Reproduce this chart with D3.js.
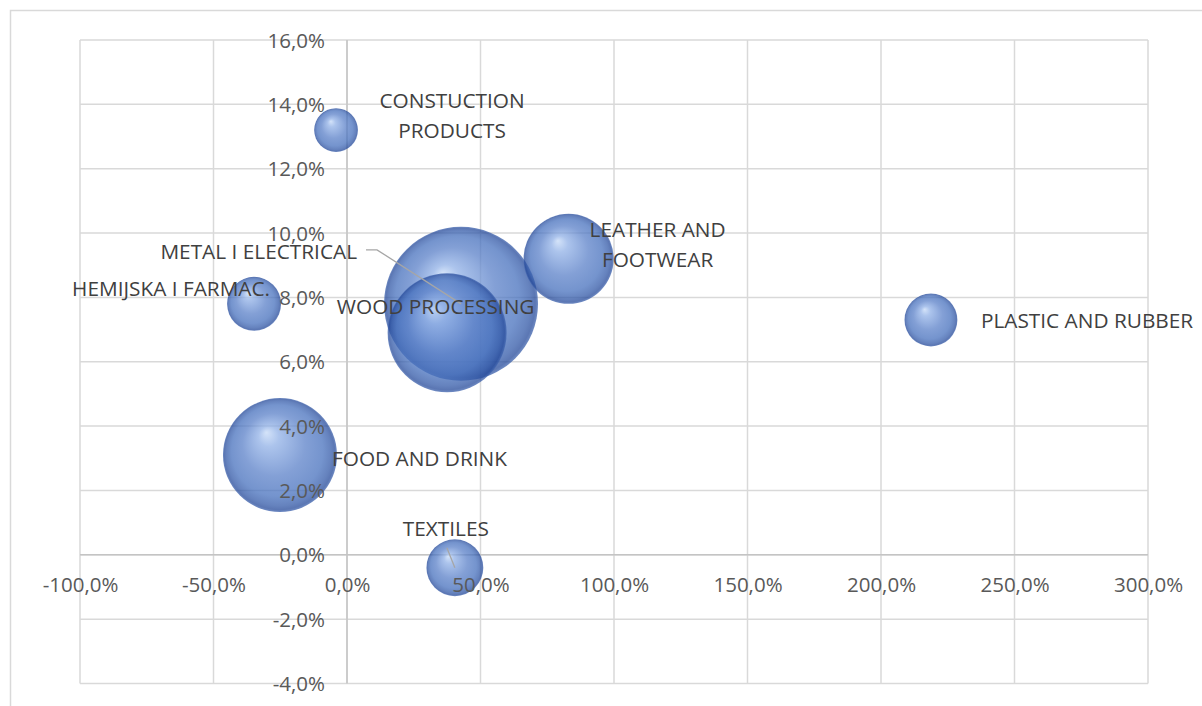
<!DOCTYPE html>
<html><head><meta charset="utf-8">
<script src="https://cdn.jsdelivr.net/npm/d3@7"></script>
<style>
html,body{margin:0;padding:0;background:#fff;}
svg{display:block;font-family:"Open Sans","Noto Sans",sans-serif;}
</style>
</head><body>
<svg id="chart" width="1202" height="706"></svg>
<script>
// ---- data ----
const categories = ["CONSTUCTION\nPRODUCTS", "HEMIJSKA I FARMAC.", "FOOD AND DRINK", "METAL I ELECTRICAL",
                    "WOOD PROCESSING", "LEATHER AND\nFOOTWEAR", "PLASTIC AND RUBBER", "TEXTILES"];
const growthX = [-0.041, -0.348, -0.251, 0.427, 0.375, 0.830, 2.187, 0.404];
const growthY = [0.132, 0.078, 0.031, 0.078, 0.069, 0.092, 0.073, -0.004];
const bubbleSize = [4.8, 7.3, 32.5, 59.3, 35.4, 20.3, 7.0, 8.1];
const xTicks = [-1, -0.5, 0, 0.5, 1, 1.5, 2, 2.5, 3];
const yTicks = [-0.04, -0.02, 0, 0.02, 0.04, 0.06, 0.08, 0.10, 0.12, 0.14, 0.16];

// ---- layout (label placement relative to bubble centre, px) ----
const labelLayout = [
  {anchor:"middle", dx:116, dy:-29},
  {anchor:"end", dx:16, dy:-15},
  {anchor:"start", dx:52, dy:3.5},
  {anchor:"end", dx:-104, dy:-52, leader:"elbow"},
  {anchor:"middle", dx:-11.5, dy:-26.5},
  {anchor:"middle", dx:89, dy:-29},
  {anchor:"start", dx:50, dy:1},
  {anchor:"middle", dx:-9, dy:-39, leader:"below"}
];

const svg = d3.select("#chart");

// outer chart frame (partially cropped)
svg.append("rect").attr("x",10.5).attr("y",10.5).attr("width",1400).attr("height",900)
  .attr("fill","none").attr("stroke","#d9d9d9").attr("stroke-width",1.5);

const x = d3.scaleLinear().domain([-1,3]).range([80,1148]);
const y = d3.scaleLinear().domain([-0.04,0.16]).range([683.5,40]);
const r = d3.scaleSqrt().domain([0, d3.max(bubbleSize)]).range([0,77]);

const locale = d3.formatLocale({decimal:",", thousands:".", grouping:[3], currency:["","€"], minus:"-", percent:"%"});
const fmt = locale.format(".1%");

// gradient
const defs = svg.append("defs");
const grad = defs.append("radialGradient").attr("id","bub")
  .attr("cx",0.5).attr("cy",0.5).attr("r",0.5).attr("fx",0.38).attr("fy",0.3);
[[0,"#c6daf7"],[0.18,"#90b0e6"],[0.55,"#5a80c8"],[0.8,"#4670bd"],[0.92,"#3259a8"],[0.97,"#24499a"],[1,"#3e63ae"]]
  .forEach(([o,c])=>grad.append("stop").attr("offset",o).attr("stop-color",c));

// grid
const grid = svg.append("g");
grid.selectAll("line.vx").data(xTicks).join("line")
  .attr("x1",d=>x(d)).attr("x2",d=>x(d)).attr("y1",y(0.16)).attr("y2",y(-0.04))
  .attr("stroke","#d9d9d9").attr("stroke-width",1.5);
grid.selectAll("line.hy").data(yTicks).join("line")
  .attr("y1",d=>y(d)).attr("y2",d=>y(d)).attr("x1",x(-1)).attr("x2",x(3))
  .attr("stroke","#d9d9d9").attr("stroke-width",1.5);
// axis lines
grid.append("line").attr("x1",x(0)).attr("x2",x(0)).attr("y1",y(0.16)).attr("y2",y(-0.04))
  .attr("stroke","#c4c4c4").attr("stroke-width",1.5);
grid.append("line").attr("y1",y(0)).attr("y2",y(0)).attr("x1",x(-1)).attr("x2",x(3))
  .attr("stroke","#c4c4c4").attr("stroke-width",1.5);

// bubbles
const data = categories.map((c,i)=>({name:c, gx:growthX[i], gy:growthY[i], s:bubbleSize[i], lay:labelLayout[i]}));
svg.append("g").selectAll("circle").data(data).join("circle")
  .attr("cx",d=>x(d.gx)).attr("cy",d=>y(d.gy)).attr("r",d=>r(d.s))
  .attr("fill","url(#bub)").attr("fill-opacity",0.75);

// tick labels
const xa = svg.append("g").attr("transform",`translate(0,${y(0)})`)
  .call(d3.axisBottom(x).tickValues(xTicks).tickFormat(fmt).tickSize(0).tickPadding(0));
xa.select(".domain").remove();
xa.selectAll("text").attr("y",30).attr("dy","0.35em").attr("fill","#595959")
  .style("font-size","20.5px").style("font-family","'Open Sans','Noto Sans',sans-serif");
const ya = svg.append("g").attr("transform",`translate(${x(0)},0)`)
  .call(d3.axisLeft(y).tickValues(yTicks).tickFormat(fmt).tickSize(0).tickPadding(22));
ya.select(".domain").remove();
ya.selectAll("text").attr("dy","0.35em").attr("fill","#595959")
  .style("font-size","20.5px").style("font-family","'Open Sans','Noto Sans',sans-serif");

// leader lines
const lg = svg.append("g").attr("stroke","#a6a6a6").attr("stroke-width",1.3).attr("fill","none");
data.forEach(d=>{
  const cx = x(d.gx), cy = y(d.gy), L = d.lay;
  if (L.leader === "elbow") {
    const sx = cx + L.dx + 9, sy = cy + L.dy - 2;
    lg.append("polyline").attr("points",`${sx},${sy} ${sx+11},${sy} ${cx},${cy}`);
  } else if (L.leader === "below") {
    const sx = cx + L.dx + 1, sy = cy + L.dy + 19;
    lg.append("line").attr("x1",sx).attr("y1",sy).attr("x2",cx).attr("y2",cy);
  }
});

// data labels
const tl = svg.append("g").attr("fill","#404040").style("font-size","20.8px");
data.forEach(d=>{
  const cx = x(d.gx), cy = y(d.gy), L = d.lay;
  const t = tl.append("text").attr("text-anchor",L.anchor);
  d.name.split("\n").forEach((line,k)=>{
    t.append("tspan").attr("x",cx+L.dx).attr("y",cy+L.dy+k*30).attr("dy","0.35em").text(line);
  });
});
</script>
</body></html>
